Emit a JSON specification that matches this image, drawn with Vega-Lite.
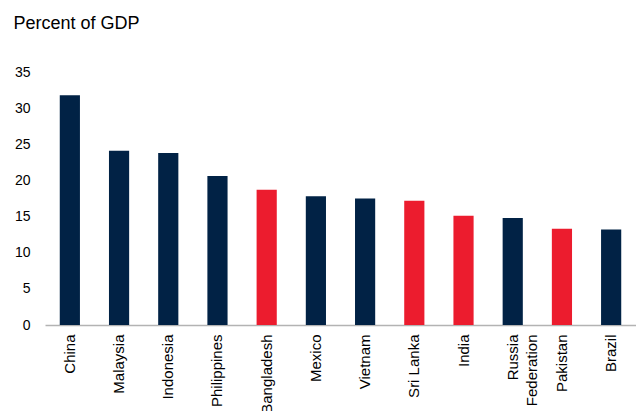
{
  "$schema": "https://vega.github.io/schema/vega-lite/v6.json",
  "width": 591,
  "height": 253,
  "autosize": {"type": "none"},
  "padding": {"left": 45, "top": 72, "right": 0, "bottom": 86},
  "background": "white",
  "config": {
    "view": {"stroke": null},
    "font": "Liberation Sans",
    "axis": {"labelFont": "Liberation Sans", "titleFont": "Liberation Sans", "labelColor": "#000000", "titleColor": "#000000", "grid": false, "ticks": false}
  },
  "data": {
    "values": [
      {"country": "China", "value": 31.8, "group": "a"},
      {"country": "Malaysia", "value": 24.1, "group": "a"},
      {"country": "Indonesia", "value": 23.8, "group": "a"},
      {"country": "Philippines", "value": 20.6, "group": "a"},
      {"country": "Bangladesh", "value": 18.7, "group": "b"},
      {"country": "Mexico", "value": 17.8, "group": "a"},
      {"country": "Vietnam", "value": 17.5, "group": "a"},
      {"country": "Sri Lanka", "value": 17.2, "group": "b"},
      {"country": "India", "value": 15.1, "group": "b"},
      {"country": "Russia Federation", "value": 14.8, "group": "a"},
      {"country": "Pakistan", "value": 13.3, "group": "b"},
      {"country": "Brazil", "value": 13.2, "group": "a"}
    ]
  },
  "mark": {"type": "bar"},
  "encoding": {
    "x": {
      "field": "country",
      "type": "nominal",
      "sort": null,
      "scale": {"paddingInner": 0.59, "paddingOuter": 0.3},
      "axis": {
        "title": null,
        "labelAngle": -90,
        "labelAlign": "right",
        "labelBaseline": "middle",
        "labelFontSize": 15,
        "labelPadding": 9,
        "labelLimit": 200,
        "domain": true,
        "domainColor": "#b3b3b3",
        "domainWidth": 1.5,
        "labelExpr": "datum.label == 'Russia Federation' ? ['Russia', 'Federation'] : datum.label",
        "labelLineHeight": 19
      }
    },
    "y": {
      "field": "value",
      "type": "quantitative",
      "scale": {"domain": [0, 35], "nice": false},
      "axis": {
        "values": [0, 5, 10, 15, 20, 25, 30, 35],
        "domain": false,
        "labelFontSize": 14,
        "labelPadding": 15,
        "title": "Percent of GDP",
        "titleAngle": 0,
        "titleAlign": "left",
        "titleBaseline": "alphabetic",
        "titleFontWeight": "normal",
        "titleFontSize": 18,
        "titleX": -32,
        "titleY": -44
      }
    },
    "color": {
      "field": "group",
      "type": "nominal",
      "scale": {"domain": ["a", "b"], "range": ["#012245", "#ec1c2e"]},
      "legend": null
    }
  }
}
